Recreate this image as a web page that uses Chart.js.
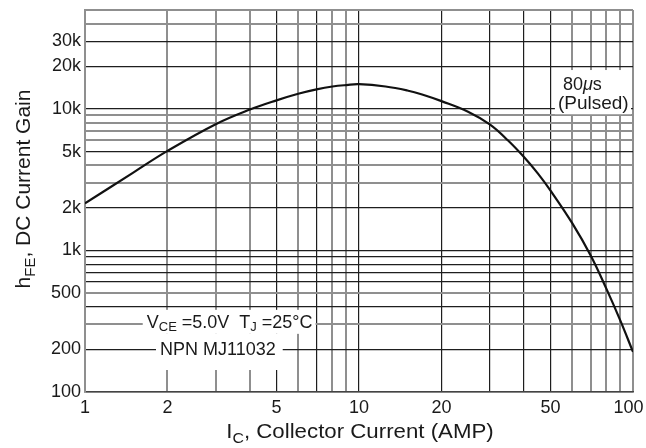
<!DOCTYPE html>
<html>
<head>
<meta charset="utf-8">
<script src="https://cdn.jsdelivr.net/npm/chart.js@4.4.1/dist/chart.umd.min.js"></script>
<style>
  html, body { margin: 0; padding: 0; background: #fff; }
  canvas { display: block; }
</style>
</head>
<body>
<canvas id="c" width="646" height="448"></canvas>
<script>
// hFE vs collector current, MJ11032 (VCE = 5 V, TJ = 25 °C, pulsed)
const collectorCurrent = [1, 1.5, 2, 3, 4, 5, 6, 7, 8, 9, 10, 12.5, 15, 17, 20, 25, 30, 35, 40, 45, 50, 60, 70, 80, 90, 100];
const dcGain = [2150, 3550, 5050, 7800, 9900, 11500, 12800, 13750, 14400, 14750, 14950, 14400, 13500, 12650, 11350, 9550, 7770, 5980, 4570, 3490, 2650, 1560, 925, 535, 318, 192];

// labelled tick values and axis ranges
const xTickLabels = [1, 2, 5, 10, 20, 50, 100];
const yTickLabels = [100, 200, 500, 1000, 2000, 5000, 10000, 20000, 30000];
const xRange = [1, 100];
const yRange = [100, 50000];

// grid lines printed in the lighter grey
const xLightLines = [1, 2, 3, 4, 6, 8, 9, 60, 70, 80, 90, 100];
const yLightLines = [50000, 40000, 9000, 8000, 7000, 6000, 4000, 3000, 500, 300];

const FONT = "'Liberation Sans', Arial, Helvetica, sans-serif";
const INK = '#1a1a1a';
const DARK_LINE = '#1e1e1e';
const LIGHT_LINE = '#8f8f8f';

// 1..9 x 10^n grid values inside a range
function decadeTicks(min, max) {
  const out = [];
  for (let e = Math.floor(Math.log10(min)); e <= Math.ceil(Math.log10(max)); e++) {
    for (let m = 1; m <= 9; m++) {
      const v = m * Math.pow(10, e);
      if (v >= min && v <= max) out.push({ value: v });
    }
  }
  if (!out.some(t => t.value === max)) out.push({ value: max });
  return out;
}

function fontOf(r) { return (r.italic ? 'italic ' : '') + r.size + 'px ' + FONT; }
function drawRuns(ctx, x, y, runs) {
  for (const r of runs) {
    ctx.font = fontOf(r);
    ctx.fillText(r.t, x, y + (r.dy || 0));
    x += ctx.measureText(r.t).width;
  }
  return x;
}
function runsWidth(ctx, runs) {
  let w = 0;
  for (const r of runs) { ctx.font = fontOf(r); w += ctx.measureText(r.t).width; }
  return w;
}

const conditionRuns = [
  { t: 'V', size: 18 }, { t: 'CE', size: 13, dy: 3 }, { t: ' =5.0V  ', size: 18 },
  { t: 'T', size: 18 }, { t: 'J', size: 13, dy: 3 }, { t: ' =25°C', size: 18 }
];
const partRuns = [{ t: 'NPN MJ11032', size: 18 }];
const pulseRuns1 = [{ t: '80', size: 18 }, { t: 'μ', size: 18, italic: true }, { t: 's', size: 18 }];
const pulseRuns2 = [{ t: '(Pulsed)', size: 19 }];

const notes = {
  id: 'notes',
  afterDatasetsDraw(chart) {
    const { ctx, chartArea, scales: { x, y } } = chart;
    ctx.save();
    ctx.textBaseline = 'alphabetic';
    ctx.textAlign = 'left';

    // test conditions and part number, on white label boxes
    const cx = x.getPixelForValue(1.68), cy = y.getPixelForValue(284);
    const cw = runsWidth(ctx, conditionRuns);
    const px = x.getPixelForValue(1.878), py = y.getPixelForValue(183);
    const pw = runsWidth(ctx, partRuns);
    ctx.fillStyle = '#fff';
    ctx.fillRect(cx - 4, cy - 18, cw + 7, 24);
    ctx.fillRect(px - 4, cy + 6, pw + 11, chartArea.bottom - (cy + 6) - 22);
    ctx.fillStyle = INK;
    drawRuns(ctx, cx, cy, conditionRuns);
    drawRuns(ctx, px, py, partRuns);

    // pulse width note in the upper right
    const ax = x.getPixelForValue(55.5), ay = y.getPixelForValue(13600);
    const bx = x.getPixelForValue(53.2), by = y.getPixelForValue(9950);
    ctx.fillStyle = '#fff';
    ctx.fillRect(bx - 3, ay - 20, chartArea.right - 2 - (bx - 3), by + 5 - (ay - 20));
    ctx.fillStyle = INK;
    drawRuns(ctx, ax, ay, pulseRuns1);
    drawRuns(ctx, bx, by, pulseRuns2);
    ctx.restore();
  },
  afterDraw(chart) {
    const { ctx, chartArea } = chart;
    ctx.save();
    ctx.fillStyle = INK;
    ctx.textBaseline = 'alphabetic';
    ctx.textAlign = 'left';

    // x axis title, set slightly wide
    const xt = [{ t: 'I', size: 21 }, { t: 'C', size: 15, dy: 5 }, { t: ', Collector Current (AMP)', size: 21 }];
    const xw = runsWidth(ctx, xt);
    const stretch = 1.06;
    ctx.save();
    ctx.translate((chartArea.left + chartArea.right) / 2 + 1 - (xw * stretch) / 2, 438);
    ctx.scale(stretch, 1);
    drawRuns(ctx, 0, 0, xt);
    ctx.restore();

    // y axis title, rotated
    const yt = [{ t: 'h', size: 21 }, { t: 'FE', size: 15, dy: 5 }, { t: ', DC Current Gain', size: 21 }];
    const yw = runsWidth(ctx, yt);
    ctx.translate(30, 189);
    ctx.rotate(-Math.PI / 2);
    drawRuns(ctx, -yw / 2, 0, yt);
    ctx.restore();
  }
};

new Chart(document.getElementById('c'), {
  type: 'line',
  data: {
    datasets: [{
      data: collectorCurrent.map((c, i) => ({ x: c, y: dcGain[i] })),
      borderColor: '#111',
      borderWidth: 2.2,
      pointRadius: 0,
      fill: false,
      tension: 0.4
    }]
  },
  options: {
    responsive: false,
    animation: false,
    devicePixelRatio: 1,
    layout: { padding: { top: 10, right: 13, left: 0, bottom: 0 } },
    plugins: { legend: { display: false }, tooltip: { enabled: false } },
    scales: {
      x: {
        type: 'logarithmic',
        min: xRange[0],
        max: xRange[1],
        afterBuildTicks: s => { s.ticks = decadeTicks(xRange[0], xRange[1]); },
        afterFit: s => { s.height = 56; s.paddingLeft = 0; s.paddingRight = 0; },
        border: { display: true, color: '#444', width: 1.5 },
        grid: {
          drawTicks: false,
          color: c => xLightLines.includes(c.tick && c.tick.value) ? LIGHT_LINE : DARK_LINE,
          lineWidth: c => xLightLines.includes(c.tick && c.tick.value) ? 2 : 1.2
        },
        ticks: {
          autoSkip: false,
          maxRotation: 0,
          padding: 5,
          color: INK,
          font: { family: FONT, size: 18 },
          // the last label is nudged inward so it stays on the canvas
          callback: v => xTickLabels.includes(v) ? (v === xRange[1] ? String(v) + '\u2002' : String(v)) : ''
        }
      },
      y: {
        type: 'logarithmic',
        min: yRange[0],
        max: yRange[1],
        afterBuildTicks: s => { s.ticks = decadeTicks(yRange[0], yRange[1]); },
        afterFit: s => { s.width = 85; s.paddingTop = 0; s.paddingBottom = 0; },
        border: { display: true, color: LIGHT_LINE, width: 2 },
        grid: {
          drawTicks: false,
          color: c => yLightLines.includes(c.tick && c.tick.value) ? LIGHT_LINE : DARK_LINE,
          lineWidth: c => yLightLines.includes(c.tick && c.tick.value) ? 2 : 1.2
        },
        ticks: {
          autoSkip: false,
          padding: 4,
          color: INK,
          font: { family: FONT, size: 18 },
          callback: v => yTickLabels.includes(v) ? (v >= 1000 ? (v / 1000) + 'k' : String(v)) : ''
        }
      }
    }
  },
  plugins: [notes]
});
</script>
</body>
</html>
